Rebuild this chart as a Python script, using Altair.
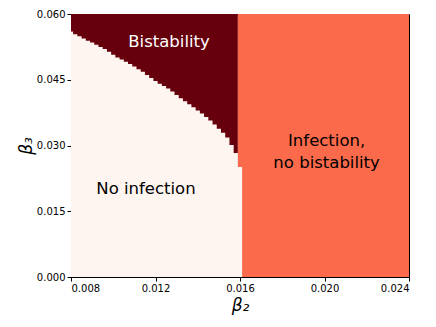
import altair as alt
import pandas as pd

# beta2 grid (column centres), step 0.0002
beta2_grid = [round(0.008 + 0.0002 * i, 4) for i in range(41)]

# beta3 boundary between "No infection" (below) and "Bistability" (above), columns 0..39
bistab_edge = [0.0560, 0.0554, 0.0549, 0.0544, 0.0539, 0.0535, 0.0530, 0.0525, 0.0520, 0.0514,
               0.0507, 0.0501, 0.0496, 0.0491, 0.0486, 0.0480, 0.0474, 0.0468, 0.0461, 0.0454,
               0.0447, 0.0441, 0.0436, 0.0430, 0.0423, 0.0415, 0.0408, 0.0401, 0.0394, 0.0387,
               0.0380, 0.0373, 0.0365, 0.0357, 0.0348, 0.0338, 0.0329, 0.0318, 0.0301, 0.0283]
# column 40 (beta2 = 0.016): no infection below this, infection above
col40_edge = 0.0251

regions = ["No infection", "Bistability", "Infection"]
region_colors = ["#fff5f0", "#67000d", "#fb6a4a"]

x_min, x_max = 0.008, 0.024
y_min, y_max = 0.0, 0.06
half = 0.0001

# Background blocks: bistability left of beta2=0.016 column, infection from there on
rows = [
    dict(x=x_min, x2=beta2_grid[len(bistab_edge)] - half, y=y_min, y2=y_max, region="Bistability", order=0),
    dict(x=beta2_grid[len(bistab_edge)] - half, x2=x_max, y=y_min, y2=y_max, region="Infection", order=0),
]
# No-infection region as a union of overlapping rectangles (staircase)
edges = bistab_edge + [col40_edge]
for i, c in enumerate(beta2_grid):
    rows.append(dict(x=x_min, x2=c + half, y=y_min, y2=edges[i], region="No infection", order=1))
df = pd.DataFrame(rows)

labels = pd.DataFrame([
    dict(x=0.01264, y=0.0536, text="Bistability", color="white"),
    dict(x=0.01155, y=0.0201, text="No infection", color="black"),
    dict(x=0.0201, y=0.0311, text="Infection,", color="black"),
    dict(x=0.0201, y=0.0261, text="no bistability", color="black"),
])

xscale = alt.Scale(domain=[x_min, x_max], nice=False, zero=False)
yscale = alt.Scale(domain=[y_min, y_max], nice=False, zero=False)

color_scale = alt.Scale(domain=regions, range=region_colors)

rects = alt.Chart(df).mark_rect().encode(
    x=alt.X("x:Q", scale=xscale,
            axis=alt.Axis(title="β₂", values=[0.008, 0.012, 0.016, 0.020, 0.024], format=".3f")),
    x2="x2:Q",
    y=alt.Y("y:Q", scale=yscale,
            axis=alt.Axis(title="β₃", values=[0.0, 0.015, 0.030, 0.045, 0.060], format=".3f")),
    y2="y2:Q",
    color=alt.Color("region:N", scale=color_scale, legend=None),
    order=alt.Order("order:Q"),
)

texts = alt.Chart(labels).mark_text(font="DejaVu Sans", fontSize=16.5, align="center", baseline="middle").encode(
    x=alt.X("x:Q", scale=xscale),
    y=alt.Y("y:Q", scale=yscale),
    text="text:N",
    color=alt.Color("color:N", scale=None),
)

chart = alt.layer(rects, texts).properties(
    width=338, height=263,
    autosize=alt.AutoSizeParams(type="none"),
    padding={"left": 63, "top": 6, "right": 19, "bottom": 42},
).configure_view(
    stroke="black", strokeWidth=1
).configure_axis(
    grid=False,
    domainColor="black",
    tickColor="black",
    tickSize=4,
    labelColor="black",
    labelFont="DejaVu Sans",
    labelFontSize=10,
    labelPadding=2,
    titleColor="black",
    titleFont="DejaVu Sans",
    titleFontSize=17,
    titleFontWeight="normal",
    titleFontStyle="italic",
).configure_axisX(
    titlePadding=4,
).configure_axisY(
    titlePadding=1,
)

chart.save("out.html", embed_options={"renderer": "svg", "actions": False})
